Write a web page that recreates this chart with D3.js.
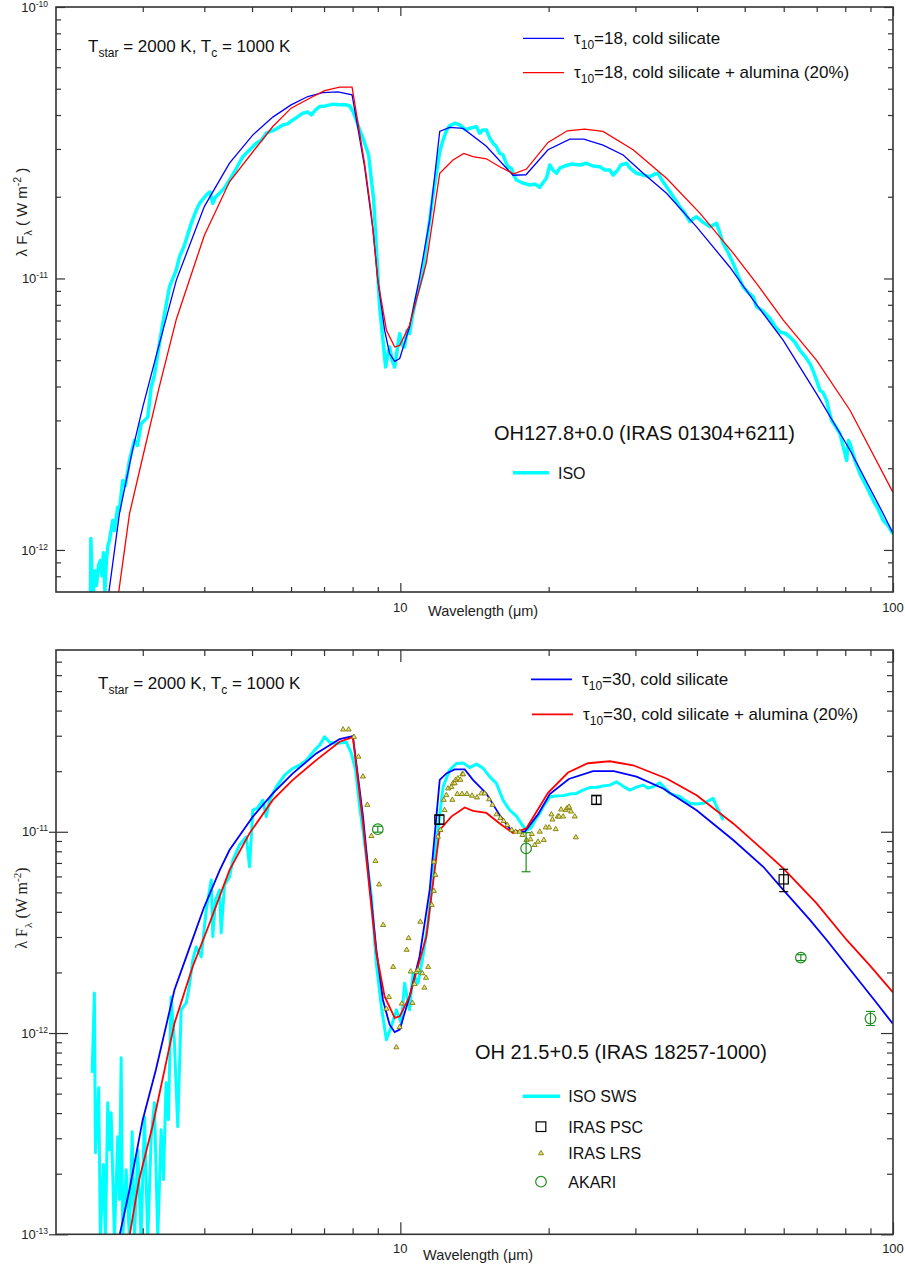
<!DOCTYPE html>
<html>
<head>
<meta charset="utf-8">
<script src="https://cdn.jsdelivr.net/npm/d3@7"></script>
<style>
  body { margin: 0; background: #fff; }
  svg { display: block; font-family: Arial, "Liberation Sans", sans-serif; }
</style>
</head>
<body>
<div id="chart"></div>
<script>
// Wavelengths in micron, fluxes in units of 1e-12 W m^-2

// ---- top panel: OH127.8+0.0 ----
const p1SilLam = [2.56, 2.69, 2.86, 3.00, 3.19, 3.51, 4.00, 4.50, 5.02, 5.51, 6.00, 6.49, 6.96, 7.47, 7.98, 8.46, 8.80, 9.00, 9.29, 9.51, 9.74, 9.97, 10.44, 10.94, 11.47, 12.02, 12.59, 13.41, 14.95, 16.93, 17.99, 19.94, 22.08, 23.57, 25.79, 28.33, 31.11, 34.70, 39.93, 46.66, 52.03, 59.88, 69.98, 81.80, 95.56, 100];
const p1SilFlux = [0.696, 1.36, 2.33, 3.36, 5.14, 9.86, 18.4, 26.6, 33.8, 39.3, 43.6, 46.8, 48.4, 48.7, 47.5, 25.8, 15.1, 9.86, 6.45, 5.29, 4.95, 5.07, 6.63, 10.1, 16.4, 34.8, 36.0, 35.7, 30.7, 24.0, 24.1, 29.8, 32.6, 32.6, 31.0, 28.5, 24.4, 20.6, 15.5, 11.0, 8.32, 5.92, 3.76, 2.33, 1.36, 1.15];

const p1AluLam = [2.68, 2.82, 3.00, 3.24, 3.51, 4.00, 4.50, 5.02, 5.51, 6.00, 6.65, 7.02, 7.53, 7.98, 8.46, 8.73, 9.00, 9.37, 9.74, 9.97, 10.44, 11.29, 12.02, 12.79, 13.45, 14.04, 14.95, 15.91, 16.99, 18.03, 19.94, 21.82, 23.68, 25.79, 29.68, 34.70, 40.55, 47.38, 53.3, 59.88, 69.98, 81.80, 100];
const p1AluFlux = [0.696, 1.36, 2.20, 3.98, 7.08, 14.4, 22.7, 29.3, 36.3, 42.4, 46.8, 49.2, 50.7, 50.7, 26.6, 17.4, 9.86, 6.45, 5.59, 5.67, 6.73, 11.4, 24.4, 27.3, 28.9, 28.1, 27.6, 25.8, 24.3, 25.3, 31.7, 35.0, 35.5, 34.8, 29.8, 23.4, 17.4, 12.4, 9.4, 7.02, 4.99, 3.27, 1.63];

const p1IsoLam = [2.349, 2.354, 2.366, 2.382, 2.399, 2.416, 2.439, 2.461, 2.479, 2.496,
  2.514, 2.531, 2.549, 2.567, 2.607, 2.628, 2.669, 2.690, 2.732, 2.767,
  2.819, 2.886, 2.927, 2.977, 3.071, 3.121, 3.168, 3.218, 3.294, 3.399,
  3.508, 3.562, 3.646, 3.763, 3.839, 3.912, 4.005, 4.067, 4.108, 4.162,
  4.215, 4.295, 4.396, 4.501, 4.628, 4.789, 4.942, 5.099, 5.227, 5.343,
  5.554, 5.774, 5.903, 6.050, 6.185, 6.340, 6.484, 6.597, 6.729, 6.858,
  7.051, 7.296, 7.528, 7.767, 7.889, 8.013, 8.141, 8.268, 8.395, 8.530,
  8.623, 8.733, 8.827, 8.938, 9.013, 9.078, 9.219, 9.335, 9.423, 9.512,
  9.623, 9.737, 9.851, 9.968, 10.09, 10.20, 10.32, 10.44, 10.59, 10.78,
  10.94, 11.11, 11.29, 11.47, 11.65, 11.84, 12.02, 12.21, 12.42, 12.59,
  12.89, 13.20, 13.57, 13.83, 14.27, 14.49, 14.70, 14.95, 15.19, 15.43,
  15.67, 15.91, 16.16, 16.36, 16.54, 16.80, 16.99, 17.20, 17.72, 18.31,
  18.74, 19.19, 19.46, 19.80, 20.11, 20.39, 20.75, 21.07, 21.56, 22.28,
  23.13, 23.86, 24.58, 25.40, 26.00, 26.62, 27.03, 27.63, 28.02, 28.78,
  29.23, 30.16, 31.07, 32.09, 32.86, 33.37, 33.95, 34.70, 35.74, 36.93,
  37.80, 38.70, 39.25, 39.93, 41.12, 42.50, 43.85, 44.53, 45.22, 46.23,
  47.38, 48.43, 49.64, 50.75, 52.03, 52.86, 54.19, 56.26, 57.59, 58.96,
  60.34, 61.77, 63.23, 64.73, 66.26, 67.82, 68.78, 69.98, 71.07, 72.08,
  73.33, 74.13, 75.07, 76.24, 78.05, 79.15, 80.54, 81.21, 81.80, 83.73,
  85.70, 88.14, 91.20, 93.22, 95.56, 97.70, 100];
const p1IsoFlux = [0.65, 1.101, 0.804, 0.708, 0.839, 0.739, 0.875, 0.913, 0.804, 0.977,
  0.708, 0.913, 1.037, 1.082, 1.283, 1.178, 1.436, 1.396, 1.802, 1.727,
  2.135, 2.531, 2.426, 2.917, 3.085, 3.981, 4.397, 5.287, 6.823, 9.31,
  10.73, 12.01, 13.27, 15.96, 17.56, 18.91, 19.95, 20.59, 20.82, 18.91,
  19.95, 20.59, 21.54, 23.05, 25.10, 28.10, 29.75, 31.49, 32.38, 34.28,
  35.25, 36.79, 37.10, 38.38, 39.38, 40.63, 41.07, 40.05, 41.78, 42.97,
  43.22, 43.86, 43.61, 43.61, 43.22, 41.19, 38.38, 35.25, 32.94, 30.18,
  28.51, 23.05, 19.45, 13.08, 9.86, 7.858, 5.92, 4.719, 5.212, 5.592,
  4.994, 4.719, 5.438, 6.266, 5.674, 5.592, 6.445, 6.266, 7.321, 8.552,
  9.447, 10.43, 13.27, 16.41, 20.29, 24.40, 29.24, 32.38, 35.25, 36.48,
  37.33, 36.79, 35.25, 35.77, 36.26, 34.28, 35.25, 35.25, 32.86, 31.49,
  30.59, 28.93, 28.51, 26.86, 25.81, 25.47, 24.05, 23.05, 22.48, 22.10,
  22.29, 21.67, 22.48, 23.45, 26.19, 25.10, 24.40, 25.53, 25.96, 26.41,
  26.19, 26.57, 25.96, 25.81, 25.10, 25.10, 24.05, 25.10, 26.19, 26.57,
  25.53, 24.40, 24.05, 23.71, 24.26, 24.40, 23.05, 21.78, 20.12, 18.37,
  17.42, 16.18, 16.55, 16.88, 16.13, 15.50, 15.96, 14.70, 13.46, 12.50,
  11.36, 10.28, 9.31, 8.901, 8.552, 7.858, 7.638, 7.137, 6.668, 6.353,
  6.283, 6.088, 5.820, 5.438, 5.168, 4.857, 4.587, 4.214, 3.871, 3.806,
  3.555, 3.266, 3.000, 2.875, 2.679, 2.426, 2.135, 2.531, 2.460, 2.135,
  1.907, 1.727, 1.520, 1.420, 1.283, 1.229, 1.146];

// ---- bottom panel: OH 21.5+0.5 ----
const p2SilLam = [2.69, 2.82, 3.00, 3.19, 3.48, 3.72, 3.99, 4.30, 4.50, 5.02, 5.51, 6.05, 6.75, 7.53, 8.01, 8.40, 8.66, 8.94, 9.22, 9.51, 9.74, 9.97, 10.44, 10.94, 11.47, 12.02, 12.40, 12.89, 13.51, 14.04, 14.95, 15.91, 16.80, 17.88, 19.03, 20.11, 21.98, 24.61, 27.12, 30.16, 34.15, 39.93, 47.38, 54.53, 59.88, 67.82, 73.33, 81.80, 91.20, 100];
const p2SilFlux = [0.098, 0.167, 0.371, 0.657, 1.64, 2.59, 4.18, 6.45, 8.11, 11.9, 15.5, 19.5, 24.5, 28.9, 29.9, 11.9, 5.55, 2.59, 1.46, 1.10, 1.01, 1.04, 1.52, 2.40, 5.14, 18.1, 19.5, 20.4, 20.4, 18.1, 15.5, 12.1, 10.1, 10.0, 12.2, 15.4, 18.3, 20.0, 20.0, 18.8, 16.4, 12.8, 9.10, 6.70, 5.14, 3.65, 2.90, 2.07, 1.48, 1.11];

const p2AluLam = [2.82, 2.95, 3.14, 3.48, 3.79, 4.10, 4.50, 4.94, 5.51, 6.05, 6.75, 7.53, 8.01, 8.40, 8.66, 8.94, 9.29, 9.74, 9.97, 10.44, 11.29, 12.02, 12.69, 13.51, 14.04, 14.95, 15.91, 16.93, 18.03, 19.94, 21.90, 24.02, 26.62, 29.68, 34.70, 39.93, 47.38, 54.53, 59.88, 69.98, 80.54, 89.81, 100];
const p2AluFlux = [0.098, 0.187, 0.344, 1.12, 2.14, 3.51, 6.45, 9.82, 14.4, 18.1, 22.7, 28.0, 29.5, 11.0, 5.14, 2.49, 1.52, 1.19, 1.21, 1.52, 3.01, 10.2, 11.9, 13.2, 12.7, 12.4, 11.0, 9.85, 10.4, 15.6, 19.7, 21.9, 22.4, 21.4, 18.4, 15.2, 11.0, 8.11, 6.58, 4.41, 2.90, 2.16, 1.59];

const p2IsoLam = [2.368, 2.393, 2.405, 2.442, 2.461, 2.496, 2.520, 2.547, 2.567, 2.588,
  2.628, 2.669, 2.690, 2.712, 2.732, 2.776, 2.819, 2.855, 2.886, 2.931,
  2.977, 3.024, 3.071, 3.121, 3.168, 3.218, 3.269, 3.305, 3.346, 3.382,
  3.425, 3.479, 3.533, 3.590, 3.676, 3.733, 3.790, 3.851, 3.943, 4.036,
  4.132, 4.162, 4.215, 4.295, 4.328, 4.396, 4.501, 4.571, 4.716, 4.867,
  4.942, 5.018, 5.130, 5.259, 5.343, 5.426, 5.600, 5.821, 6.050, 6.243,
  6.444, 6.698, 6.858, 7.019, 7.185, 7.413, 7.767, 7.954, 8.114, 8.268,
  8.395, 8.530, 8.733, 8.938, 9.150, 9.367, 9.587, 9.815, 10.05, 10.20,
  10.44, 10.61, 10.86, 11.11, 11.38, 11.65, 11.92, 12.21, 12.59, 12.99,
  13.41, 13.83, 14.27, 14.72, 15.19, 15.67, 16.16, 16.67, 17.20, 17.74,
  18.06, 18.40, 18.89, 19.19, 19.49, 20.11, 20.67, 21.40, 22.08, 22.78,
  23.46, 24.24, 25.05, 25.79, 26.62, 27.47, 28.29, 29.23, 30.16, 31.11,
  31.79, 32.60, 33.63, 34.43, 35.24, 36.07, 36.93, 37.80, 38.70, 39.79,
  41.17, 42.10, 43.15, 43.85, 44.53, 45.22];
const p2IsoFlux = [0.634, 1.583, 0.254, 0.535, 0.095, 0.222, 0.095, 0.450, 0.263, 0.402,
  0.095, 0.305, 0.149, 0.753, 0.095, 0.209, 0.095, 0.323, 0.095, 0.263,
  0.095, 0.384, 0.095, 0.305, 0.450, 0.095, 0.331, 0.187, 0.566, 0.371,
  1.512, 0.894, 0.342, 1.304, 1.412, 1.734, 2.308, 2.678, 2.388, 4.088,
  5.758, 3.012, 4.581, 5.137, 3.142, 5.439, 5.961, 7.236, 8.590, 9.445,
  6.704, 12.81, 13.11, 14.36, 11.87, 14.36, 16.72, 19.11, 20.64, 21.43,
  22.69, 25.44, 26.94, 29.61, 27.87, 27.46, 27.87, 24.50, 20.24, 13.31,
  10.19, 7.513, 4.758, 2.223, 1.354, 0.925, 1.077, 1.304, 1.120, 1.768,
  1.304, 1.982, 1.768, 2.396, 3.511, 6.454, 10.19, 16.72, 20.24, 21.85,
  21.99, 20.83, 21.68, 20.71, 18.75, 17.39, 14.36, 12.81, 11.96, 10.67,
  10.19, 10.43, 11.69, 12.34, 13.31, 14.87, 15.04, 15.12, 15.39, 15.51,
  16.11, 16.57, 16.66, 16.86, 17.05, 17.71, 16.86, 16.11, 16.66, 17.05,
  16.48, 16.72, 17.51, 16.48, 15.51, 15.21, 14.92, 14.36, 13.84, 13.73,
  13.84, 14.20, 14.65, 13.31, 12.38, 11.43];

const pscLam = [12, 25, 60];
const pscFlux = [11.5, 14.4, 5.8];
const pscLo = [10.9, 13.7, 5.04];
const pscHi = [12.1, 15.1, 6.51];

const lrsLam = [7.652, 7.852, 8.050, 8.222, 8.395, 8.570, 8.733, 8.901, 9.054, 9.228,
  9.367, 9.480, 9.669, 9.815, 9.968, 10.07, 10.30, 10.39, 10.49, 10.58,
  10.69, 10.78, 10.86, 10.98, 11.08, 11.19, 11.27, 11.39, 11.58, 11.70,
  11.70, 11.78, 11.92, 12.06, 12.25, 12.30, 12.40, 12.50, 12.69, 12.75,
  12.79, 12.89, 12.95, 13.05, 13.09, 13.24, 13.34, 13.36, 13.41, 13.65,
  13.98, 14.31, 14.60, 14.83, 15.14, 15.38, 15.67, 15.96, 16.21, 16.49,
  16.83, 17.15, 17.47, 17.69, 18.03, 18.37, 18.48, 18.74, 19.03, 19.19,
  19.55, 19.73, 20.04, 20.26, 20.36, 20.67, 20.87, 21.00, 21.20, 21.40,
  21.67, 21.80, 22.00, 22.21, 22.60, 22.71];
const lrsFlux = [32.2, 32.2, 29.6, 23.6, 18.8, 13.6, 9.52, 7.16, 5.47, 3.44,
  1.32, 1.51, 2.13, 0.849, 1.07, 1.40, 2.59, 2.96, 2.02, 1.41,
  1.75, 2.01, 2.06, 3.57, 1.98, 1.68, 1.88, 2.13, 4.33, 5.08,
  7.10, 6.10, 9.45, 10.2, 14.4, 12.8, 15.2, 16.4, 16.7, 14.4,
  17.4, 17.4, 18.1, 15.4, 18.4, 18.1, 15.4, 19.3, 19.3, 15.4,
  15.1, 14.8, 15.5, 15.5, 14.5, 13.6, 12.2, 11.7, 11.3, 10.8,
  10.2, 10.0, 10.0, 9.63, 9.10, 9.17, 9.74, 8.59, 8.92, 10.0,
  9.10, 10.5, 10.5, 12.2, 11.5, 10.3, 11.9, 11.9, 12.9, 11.9,
  12.8, 13.1, 13.3, 12.6, 11.9, 9.38];

const akariLam = [9, 18, 65, 90];
const akariFlux = [10.3, 8.27, 2.37, 1.18];
const akariLo = [9.95, 6.33, 2.29, 1.09];
const akariHi = [10.65, 9.9, 2.45, 1.28];

// ---- axes ----
const xMinorTicks = [3, 4, 5, 6, 7, 8, 9, 20, 30, 40, 50, 60, 70, 80, 90];
const xMajorTicks = [10, 100];
const xTickLabels = ["10", "100"];
const p1YMajor = [1e-12, 1e-11, 1e-10];
const p1YLabels = ["-12", "-11", "-10"];
const p2YMajor = [1e-13, 1e-12, 1e-11];
const p2YLabels = ["-13", "-12", "-11"];

const width = 905;
const height = 1270;
const axisColor = "#333";

const svg = d3.select("#chart").append("svg")
    .attr("width", width)
    .attr("height", height);
const defs = svg.append("defs");

// text with sub/superscripts: parts = [[text, "sub"|"sup"|null], ...]
function rich(sel, parts, fs, small) {
  let shift = 0;
  parts.forEach(([t, kind]) => {
    const target = kind === "sub" ? fs * 0.3 : kind === "sup" ? -fs * 0.4 : 0;
    sel.append("tspan")
        .attr("dy", target - shift)
        .attr("font-size", kind ? (small || fs * 0.7) : fs)
        .text(t);
    shift = target;
  });
  return sel;
}

function minorY(domain) {
  const out = [];
  for (let e = -14; e <= -9; e++) {
    for (let k = 2; k <= 9; k++) {
      const v = k * Math.pow(10, e);
      if (v > domain[0] && v < domain[1]) out.push(v);
    }
  }
  return out;
}

function drawPanel(p) {
  const x = d3.scaleLog().domain([2, 100]).range([p.left, p.right]);
  const y = d3.scaleLog().domain(p.yDomain).range([p.bottom, p.top]);
  const g = svg.append("g");

  defs.append("clipPath")
      .attr("id", "clip-" + p.id)
    .append("rect")
      .attr("x", p.left)
      .attr("y", p.top)
      .attr("width", p.right - p.left)
      .attr("height", p.bottom - p.top);

  const plot = g.append("g").attr("clip-path", `url(#clip-${p.id})`);
  const line = d3.line()
      .x(d => x(d[0]))
      .y(d => y(d[1] * 1e-12));

  // ISO spectrum
  plot.append("path")
      .datum(d3.zip(p.isoLam, p.isoFlux))
      .attr("fill", "none")
      .attr("stroke", "#00ffff")
      .attr("stroke-width", p.isoWidth)
      .attr("stroke-linejoin", "round")
      .attr("d", line);

  // models
  plot.append("path")
      .datum(d3.zip(p.silLam, p.silFlux))
      .attr("fill", "none")
      .attr("stroke", "#0000ff")
      .attr("stroke-width", p.modelWidth)
      .attr("d", line);

  plot.append("path")
      .datum(d3.zip(p.aluLam, p.aluFlux))
      .attr("fill", "none")
      .attr("stroke", "#ff0000")
      .attr("stroke-width", p.modelWidth)
      .attr("d", line);

  if (p.extra) p.extra(plot, x, y);

  // ticks
  const tick = (axis, vals, size, tr) => {
    g.append("g")
        .attr("transform", tr)
        .call(axis.tickValues(vals).tickSize(size).tickFormat(""))
        .call(a => a.select(".domain").remove())
        .selectAll("line")
        .attr("stroke", axisColor)
        .attr("stroke-width", 1.2);
  };
  tick(d3.axisBottom(x), xMinorTicks, -p.minor, `translate(0,${p.bottom})`);
  tick(d3.axisBottom(x), xMajorTicks, -p.major, `translate(0,${p.bottom})`);
  tick(d3.axisTop(x), xMinorTicks, -p.minor, `translate(0,${p.top})`);
  tick(d3.axisTop(x), xMajorTicks, -p.major, `translate(0,${p.top})`);
  const ym = minorY(p.yDomain);
  tick(d3.axisLeft(y), ym, -p.minor, `translate(${p.left},0)`);
  tick(d3.axisLeft(y), p.yMajor, -p.major, `translate(${p.left},0)`);
  tick(d3.axisRight(y), ym, -p.minor, `translate(${p.right},0)`);
  tick(d3.axisRight(y), p.yMajor, -p.major, `translate(${p.right},0)`);
  if (p.outTick) tick(d3.axisLeft(y), p.yMajor, p.outTick, `translate(${p.left},0)`);

  // frame
  g.append("rect")
      .attr("x", p.left)
      .attr("y", p.top)
      .attr("width", p.right - p.left)
      .attr("height", p.bottom - p.top)
      .attr("fill", "none")
      .attr("stroke", axisColor)
      .attr("stroke-width", 1.6);

  // tick labels
  xMajorTicks.forEach((v, i) => {
    g.append("text")
        .attr("x", x(v))
        .attr("y", p.bottom + p.xLabelDy)
        .attr("text-anchor", "middle")
        .attr("font-size", 13)
        .attr("fill", "#222")
        .text(xTickLabels[i]);
  });
  p.yMajor.forEach((v, i) => {
    const t = g.append("text")
        .attr("x", p.left - 8)
        .attr("y", y(v) + 4.6)
        .attr("text-anchor", "end")
        .attr("fill", "#222");
    t.append("tspan").attr("font-size", 13).text("10");
    t.append("tspan").attr("font-size", 8.5).attr("dy", -5).text(p.yLabels[i]);
  });

  // axis titles
  g.append("text")
      .attr("x", p.xTitleX)
      .attr("y", p.bottom + p.xTitleDy)
      .attr("font-size", 14.5)
      .attr("fill", "#222")
      .text("Wavelength (\u03bcm)");

  const yt = g.append("text")
      .attr("transform", `translate(${p.yTitleX},${p.yTitleY}) rotate(-90)`)
      .attr("text-anchor", "middle")
      .attr("fill", "#222")
      .attr("font-family", p.yTitleFont);
  rich(yt, p.yTitleParts, p.yTitleSize);

  // annotations
  rich(g.append("text").attr("x", p.tX).attr("y", p.tY).attr("fill", "#111"),
      [["T", null], ["star", "sub"], [" = 2000 K, T", null], ["c", "sub"], [" = 1000 K", null]], 17, 12);

  const legend = [[p.silLabel, "#0000ff", p.legY[0], p.legX[0]], [p.aluLabel, "#ff0000", p.legY[1], p.legX[1]]];
  legend.forEach(([lab, col, ly, lx]) => {
    g.append("line")
        .attr("x1", lx).attr("x2", lx + 41)
        .attr("y1", ly).attr("y2", ly)
        .attr("stroke", col)
        .attr("stroke-width", p.modelWidth);
    rich(g.append("text").attr("x", lx + 51).attr("y", ly + 5.5).attr("fill", "#111"),
        [["\u03c4", null], ["10", "sub"], [lab, null]], 17, 12);
  });

  g.append("text")
      .attr("x", p.nameX)
      .attr("y", p.nameY)
      .attr("font-size", 20)
      .attr("fill", "#111")
      .text(p.name);

  p.dataLegend(g);
}

// error bar + marker helpers for the photometry
function errBars(plot, x, y, lam, lo, hi, col, cap) {
  lam.forEach((l, i) => {
    const cx = x(l);
    plot.append("line")
        .attr("x1", cx).attr("x2", cx)
        .attr("y1", y(lo[i] * 1e-12)).attr("y2", y(hi[i] * 1e-12))
        .attr("stroke", col).attr("stroke-width", 1.2);
    [lo[i], hi[i]].forEach(v => {
      plot.append("line")
          .attr("x1", cx - cap).attr("x2", cx + cap)
          .attr("y1", y(v * 1e-12)).attr("y2", y(v * 1e-12))
          .attr("stroke", col).attr("stroke-width", 1.2);
    });
  });
}

const triangle = d3.symbol().type(d3.symbolTriangle).size(11);
const lrsFill = "#e6df86";
const lrsStroke = "#7d7d00";
const akariColor = "#1e8f1e";

drawPanel({
  id: "top",
  left: 56, right: 893, top: 7, bottom: 592,
  yDomain: [7e-13, 1e-10],
  yMajor: p1YMajor, yLabels: p1YLabels,
  major: 9, minor: 5,
  silLam: p1SilLam, silFlux: p1SilFlux,
  aluLam: p1AluLam, aluFlux: p1AluFlux,
  isoLam: p1IsoLam, isoFlux: p1IsoFlux,
  isoWidth: 3.5, modelWidth: 1.3,
  xLabelDy: 20, xTitleX: 428, xTitleDy: 24,
  yTitleX: 27, yTitleY: 212, yTitleSize: 15, yTitleFont: "Arial, 'Liberation Sans', sans-serif",
  yTitleParts: [["\u03bb F", null], ["\u03bb", "sub"], [" ( W m", null], ["-2", "sup"], [" )", null]],
  tX: 88, tY: 51.7,
  legX: [523, 523], legY: [38.3, 72.7],
  silLabel: "=18, cold silicate", aluLabel: "=18, cold silicate + alumina (20%)",
  name: "OH127.8+0.0 (IRAS 01304+6211)", nameX: 494, nameY: 440,
  dataLegend: g => {
    g.append("line")
        .attr("x1", 513).attr("x2", 549)
        .attr("y1", 472.7).attr("y2", 472.7)
        .attr("stroke", "#00ffff").attr("stroke-width", 3.5);
    g.append("text").attr("x", 558).attr("y", 479).attr("font-size", 16).attr("fill", "#111").text("ISO");
  }
});

drawPanel({
  id: "bottom",
  left: 56, right: 893, top: 650, bottom: 1234.3,
  yDomain: [1e-13, 8e-11],
  yMajor: p2YMajor, yLabels: p2YLabels,
  major: 12, minor: 6, outTick: 7,
  silLam: p2SilLam, silFlux: p2SilFlux,
  aluLam: p2AluLam, aluFlux: p2AluFlux,
  isoLam: p2IsoLam, isoFlux: p2IsoFlux,
  isoWidth: 3, modelWidth: 1.8,
  xLabelDy: 19, xTitleX: 423, xTitleDy: 26,
  yTitleX: 27, yTitleY: 908, yTitleSize: 16, yTitleFont: "'Liberation Serif', 'Times New Roman', serif",
  yTitleParts: [["\u03bb F", null], ["\u03bb", "sub"], [" (W m", null], ["-2", "sup"], [")", null]],
  tX: 98, tY: 689.3,
  legX: [531, 532], legY: [679.3, 714.3],
  silLabel: "=30, cold silicate", aluLabel: "=30, cold silicate + alumina (20%)",
  name: "OH 21.5+0.5 (IRAS 18257-1000)", nameX: 475, nameY: 1059,
  extra: (plot, x, y) => {
    // IRAS LRS
    plot.append("g").selectAll("path")
        .data(d3.zip(lrsLam, lrsFlux))
        .join("path")
        .attr("d", triangle)
        .attr("transform", d => `translate(${x(d[0])},${y(d[1] * 1e-12)})`)
        .attr("fill", lrsFill)
        .attr("stroke", lrsStroke)
        .attr("stroke-width", 0.9);
    // IRAS PSC
    errBars(plot, x, y, pscLam, pscLo, pscHi, "#000", 4.5);
    plot.append("g").selectAll("rect")
        .data(d3.zip(pscLam, pscFlux))
        .join("rect")
        .attr("x", d => x(d[0]) - 4.6)
        .attr("y", d => y(d[1] * 1e-12) - 4.6)
        .attr("width", 9.2).attr("height", 9.2)
        .attr("fill", "none")
        .attr("stroke", "#000")
        .attr("stroke-width", 1.2);
    // AKARI
    errBars(plot, x, y, akariLam, akariLo, akariHi, akariColor, 4.5);
    plot.append("g").selectAll("circle")
        .data(d3.zip(akariLam, akariFlux))
        .join("circle")
        .attr("cx", d => x(d[0]))
        .attr("cy", d => y(d[1] * 1e-12))
        .attr("r", 5.3)
        .attr("fill", "none")
        .attr("stroke", akariColor)
        .attr("stroke-width", 1.2);
  },
  dataLegend: g => {
    g.append("line")
        .attr("x1", 522.7).attr("x2", 560)
        .attr("y1", 1096.3).attr("y2", 1096.3)
        .attr("stroke", "#00ffff").attr("stroke-width", 3.5);
    g.append("rect")
        .attr("x", 541 - 4.8).attr("y", 1126.7 - 4.8)
        .attr("width", 9.6).attr("height", 9.6)
        .attr("fill", "none").attr("stroke", "#000").attr("stroke-width", 1.2);
    g.append("path")
        .attr("d", triangle)
        .attr("transform", "translate(541,1153.3)")
        .attr("fill", lrsFill).attr("stroke", lrsStroke).attr("stroke-width", 0.9);
    g.append("circle")
        .attr("cx", 541).attr("cy", 1181.7).attr("r", 5.3)
        .attr("fill", "none").attr("stroke", akariColor).attr("stroke-width", 1.2);
    const labels = [["ISO SWS", 1102.3], ["IRAS PSC", 1132.7], ["IRAS LRS", 1159.3], ["AKARI", 1187.7]];
    labels.forEach(([t, ly]) => {
      g.append("text").attr("x", 568.3).attr("y", ly).attr("font-size", 16).attr("fill", "#111").text(t);
    });
  }
});
</script>
</body>
</html>
